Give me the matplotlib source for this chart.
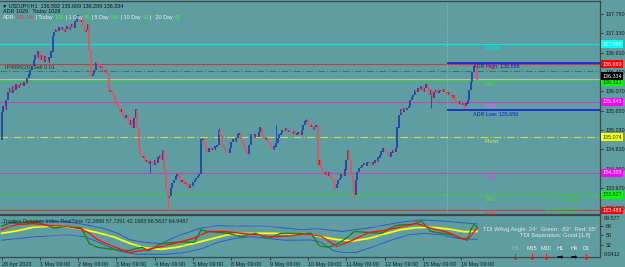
import numpy as np
import matplotlib.pyplot as plt
from matplotlib.transforms import blended_transform_factory

plt.rcParams['font.family'] = ['Liberation Sans', 'DejaVu Sans']

bg = '#5F9EA0'
bull = '#2340A8'
bear = '#E8505C'

# USDJPY H1 closes, bar 0 = 28 Apr 09:00
first_open = 135.02
closes = [
    135.62, 135.75, 135.67, 135.88, 136.06, 136.14, 136.04, 136.19, 136.10, 136.23,
    136.14, 136.21, 136.25, 136.19, 136.27, 136.23, 136.36, 136.43, 136.53, 136.62,
    136.75, 136.86, 136.80, 136.93, 136.75, 136.86, 136.71, 136.82, 136.75, 136.69,
    136.80, 136.93, 137.27, 137.36, 137.42, 137.38, 137.47, 137.40, 137.45, 137.36,
    137.42, 137.49, 137.40, 137.47, 137.53, 137.45, 137.58, 137.66, 137.71, 137.58,
    137.62, 137.49, 137.36, 137.40, 137.53, 136.97, 136.40, 136.45, 136.53, 136.71,
    136.67, 136.58, 136.62, 136.53, 136.49, 136.53, 136.45, 136.06, 136.10, 136.04,
    135.99, 135.88, 135.80, 135.71, 135.62, 135.67, 135.54, 135.49, 135.56, 135.41,
    135.34, 135.45, 135.28, 135.49, 135.67, 135.28, 134.84, 134.69, 134.63, 134.67,
    134.54, 134.58, 134.50, 134.56, 134.52, 134.47, 134.58, 134.52, 134.63, 134.69,
    134.58, 134.80, 134.37, 133.93, 133.76, 133.80, 133.97, 134.08, 134.15, 134.23,
    134.28, 134.23, 134.10, 134.15, 134.06, 134.10, 134.02, 133.97, 134.06, 134.02,
    134.10, 134.15, 134.19, 134.23, 134.28, 135.02, 135.06, 134.91, 134.80, 134.76,
    134.84, 134.80, 134.84, 134.80, 134.87, 134.91, 135.23, 135.13, 134.91, 134.87,
    134.80, 134.76, 134.74, 134.84, 134.97, 135.02, 134.97, 135.06, 135.13, 135.17,
    135.02, 134.95, 134.84, 134.76, 134.71, 134.91, 135.13, 135.10, 135.06, 135.13,
    135.08, 135.19, 135.28, 135.13, 135.08, 135.02, 135.06, 134.97, 134.91, 134.84,
    134.80, 134.87, 134.95, 135.06, 135.13, 135.17, 135.23, 135.21, 135.26, 135.19,
    135.23, 135.19, 135.15, 135.21, 135.13, 135.15, 135.19, 135.13, 135.23, 135.34,
    135.41, 135.45, 135.36, 135.30, 135.34, 135.23, 135.30, 135.34, 134.47, 134.58,
    134.41, 134.32, 134.26, 134.32, 134.23, 134.32, 134.21, 134.15, 134.04, 133.97,
    134.06, 134.15, 134.19, 134.26, 134.23, 134.37, 134.58, 134.80, 134.58, 134.26,
    134.10, 133.82, 134.15, 134.32, 134.41, 134.43, 134.47, 134.50, 134.45, 134.52,
    134.54, 134.50, 134.47, 134.52, 134.58, 134.54, 134.63, 134.69, 134.76, 134.84,
    134.80, 134.76, 134.69, 134.65, 134.74, 134.80, 134.76, 134.84, 135.28, 135.56,
    135.67, 135.62, 135.71, 135.67, 135.71, 135.75, 135.88, 135.95, 135.99, 136.10,
    136.06, 136.14, 136.10, 136.19, 136.06, 136.14, 136.23, 136.14, 135.99, 136.10,
    135.93, 136.06, 136.10, 136.04, 136.08, 136.10, 136.06, 136.12, 136.04, 135.99,
    136.06, 135.97, 135.93, 135.99, 135.88, 135.84, 135.80, 135.86, 135.78, 135.82,
    135.75, 135.80, 135.88, 136.10, 136.27, 136.49, 136.62, 136.58, 136.334,
]
spike_highs = {48: 137.73, 136: 135.28, 172: 135.34, 191: 135.47, 297: 136.64}
spike_lows = {93: 134.30, 104: 133.50, 221: 133.76, 269: 135.71, 290: 135.69}

# fibonacci pivot levels
level_names = ['R100', 'R78', 'R61', 'R38', 'Pivot', 'S38', 'S61', 'S78']
level_prices = [137.092, 136.660, 136.321, 135.845, 135.074, 134.303, 133.827, 133.488]
level_colors = ['#00E8E8', '#D03A3A', '#3CCB3C', '#C840C8', '#D0DC50', '#B848C0', '#3CCB3C', '#D03A3A']
text_colors = ['#00E8E8', '#E85A5A', '#40E040', '#F060F0', '#E8E840', '#D050D0', '#40E040', '#E04040']
box_colors = ['#00FFFF', '#FF0000', '#00FF00', '#FF00FF', '#FFFF00', '#FF00FF', '#00FF00', '#FF0000']

adr_high, adr_low, day_start = 136.686, 135.656, 279
order_price = 136.505
bid = 136.334

price_ticks = [137.750, 137.330, 136.910, 136.490, 136.070, 135.650, 135.230, 134.810, 134.390, 133.970, 133.550]
time_ticks = [0, 24, 48, 72, 96, 120, 144, 168, 192, 216, 240, 264, 288]
time_labels = ['28 Apr 2023', '1 May 09:00', '2 May 09:00', '3 May 09:00', '4 May 09:00',
               '5 May 09:00', '8 May 09:00', '9 May 09:00', '10 May 09:00', '11 May 09:00',
               '12 May 09:00', '15 May 09:00', '16 May 09:00']

# Traders Dynamic Index lines (bar, value)
yellow_bars = [0, 10, 20, 30, 40, 50, 60, 70, 80, 90, 100, 110, 120, 130, 140, 150, 160, 170,
               180, 190, 200, 210, 220, 230, 240, 250, 260, 270, 280, 290, 298]
yellow = [54, 59, 66, 67.7, 67, 62.4, 55.5, 47.4, 35, 25.7, 23, 27, 34, 42, 50, 53.5, 54, 54,
          53, 54, 47.4, 42, 39.2, 44, 52.8, 61, 65, 65.7, 62.4, 57, 57.73]
red_bars = [0, 5, 10, 20, 30, 40, 50, 55, 60, 70, 80, 90, 100, 110, 120, 125, 130, 140, 150, 160,
            170, 180, 190, 200, 210, 220, 230, 240, 250, 260, 270, 280, 290, 294, 298]
red = [61, 67, 71, 73, 69, 67.8, 62.4, 54, 42, 28.4, 16.8, 21.6, 28.4, 36, 44, 51, 57.6, 57.6, 54, 51,
       47.4, 48.8, 52.8, 48.8, 28.4, 40.6, 55.5, 59.6, 66.5, 73, 63, 55.5, 42, 48.8, 64.95]
green_bars = [0, 6, 15, 21, 27, 33, 42, 50, 55, 60, 67, 79, 88, 92, 100, 111, 121, 125, 129, 142,
              150, 159, 167, 175, 188, 194, 199, 205, 211, 217, 221, 230, 238, 246, 251, 257, 263,
              269, 276, 282, 288, 292, 294, 296, 298]
green = [67.8, 74.7, 76, 76, 71, 64.4, 67.8, 64.4, 34, 27, 23.7, 20.2, 27, 20.2, 34, 37, 37, 61, 57.6, 54,
         47.4, 54, 44, 54, 54, 54, 30, 27, 34, 47, 57.6, 55.5, 54, 67.8, 71, 71, 78,
         57.6, 54, 51, 44, 40.6, 61, 71, 66.56]
upper_bars = [0, 10, 20, 27, 42, 52, 63, 73, 80, 88, 100, 109, 125, 136, 146, 167, 177, 188, 198,
              213, 230, 242, 251, 263, 276, 288, 298]
upper = [74.7, 73, 76, 78, 76, 71, 64.4, 54, 42, 37, 34, 47.4, 64.4, 69, 67.8, 67.8, 64.4, 61, 63,
         57.6, 64.4, 71, 76, 80, 78, 74.7, 72.29]
lower_bars = [0, 21, 42, 52, 63, 73, 84, 104, 115, 125, 136, 146, 157, 167, 177, 194, 200, 208,
              214, 222, 232, 244, 255, 265, 276, 286, 298]
lower = [40.6, 47.4, 51, 47.4, 34, 20.2, 13.5, 13.5, 16.8, 23.7, 37, 44, 47.4, 44, 40.6, 41, 37, 20.2,
         16.8, 16.8, 27, 40.6, 51, 54, 51, 44, 42.2]

fs = 3.9  # MT4 uses a tiny font


def px(x, y):
    return x / 625, 1 - y / 267


fig = plt.figure(figsize=(6.25, 2.67), dpi=100, facecolor=bg)
ax = fig.add_axes([0, 53 / 267, 600 / 625, 213 / 267], facecolor=bg)
ax2 = fig.add_axes([0, 10 / 267, 600 / 625, 42 / 267], facecolor=bg)

## main price window
c = np.array(closes)
o = np.array([first_open] + closes[:-1])
x = np.arange(len(c))
up = c >= o
ax.vlines(x[up], o[up], c[up] + 0.008, color=bull, lw=1.25)
ax.vlines(x[~up], c[~up] - 0.008, o[~up], color=bear, lw=1.25)
for b, h in spike_highs.items():
    ax.vlines(b, max(o[b], c[b]), h, color=bull if up[b] else bear, lw=0.6)
for b, l in spike_lows.items():
    ax.vlines(b, l, min(o[b], c[b]), color=bull if up[b] else bear, lw=0.6)

for name, p, lc, tc in zip(level_names, level_prices, level_colors, text_colors):
    ls = (0, (7, 2, 1, 2)) if name == 'Pivot' else '-'
    ax.axhline(p, color=lc, lw=0.8, ls=ls, zorder=1)
    ax.text(302.5, p - 0.04, name, color=tc, fontsize=4.6, va='top', ha='left')

ax.axhline(order_price, color='#2E8060', lw=0.8, ls=(0, (6, 2, 1, 2)), zorder=1)
ax.text(2, order_price + 0.02, 'IP4998(20) Sell 0.01', color='#303030', fontsize=fs, va='bottom')
ax.axhline(bid, color='#C8C8C8', lw=0.6, zorder=1)

ax.axvline(day_start, color='#A8C4C4', lw=0.6, ls=(0, (1, 2)))
ax.hlines([adr_high, adr_low], day_start, 400, color='#1010E0', lw=1.1)
ax.text(295.5, adr_high - 0.03, f'ADR High: {adr_high:.3f}', color='#1818C8', fontsize=fs, va='top')
ax.text(295.5, adr_low - 0.03, f'ADR Low: {adr_low:.3f}', color='#1818C8', fontsize=fs, va='top')

ax.set_xlim(-1, 375)
ax.set_ylim(133.41, 138.032)
ax.yaxis.tick_right()
ax.set_yticks(price_ticks)
ax.set_yticklabels([f'{t:.3f}' for t in price_ticks])
ax.tick_params(axis='y', labelsize=fs, colors='#1a1a1a', length=2, width=0.5, pad=2)
ax.set_xticks([])
ax.spines['left'].set_visible(False)
for s in ['top', 'right', 'bottom']:
    ax.spines[s].set_color('#3a4a4a')
    ax.spines[s].set_linewidth(0.9)

tr = blended_transform_factory(ax.transAxes, ax.transData)
for p, bc in zip(level_prices, box_colors):
    dark = bc in ('#00FF00', '#FFFF00')
    va = 'top' if p == 136.321 else 'center'
    ax.text(1.004, p, f'{p:.3f}', transform=tr, fontsize=fs, va=va, ha='left',
            color='#203020' if dark else 'white', clip_on=False,
            bbox=dict(boxstyle='square,pad=0.25', fc=bc, ec='none'))
ax.text(1.004, bid + 0.01, f'{bid:.3f}', transform=tr, fontsize=fs, va='bottom', ha='left',
        color='white', clip_on=False, bbox=dict(boxstyle='square,pad=0.25', fc='black', ec='none'))

# header texts
fig.text(*px(2, 6), '▼ USDJPY,H1  136.592 136.609 136.209 136.334', fontsize=fs, color='#101010', va='center')
fig.text(*px(3, 12), 'ADR 1029   Today 1028', fontsize=fs, color='#101010', va='center')
hdr = [('ADR:', '#f0f0f0'), ('105.1%', '#FF3030'), (' | Today ', '#f0f0f0'), ('108', '#30FF30'),
       (' | 1 Day ', '#f0f0f0'), ('76', '#30FF30'), (' | 5 Day ', '#f0f0f0'), ('100', '#30FF30'),
       (' | 10 Day ', '#f0f0f0'), ('99', '#30FF30'), (' |   20 Day ', '#f0f0f0'), ('81', '#30FF30')]
renderer = fig.canvas.get_renderer()
xpos = 3
for s, col in hdr:
    tt = fig.text(*px(xpos, 18), s, fontsize=fs, color=col, va='center')
    xpos += tt.get_window_extent(renderer).width

fig.text(*px(557, 200), '+16.9', fontsize=6.5, color='#32CD32', va='center')
fig.text(*px(545, 210), 'Hrs 0:26:21 ?', fontsize=4.3, color='#32CD32', va='center')

## TDI window
ax2.plot(upper_bars, upper, color='#3355CC', lw=0.7)
ax2.plot(lower_bars, lower, color='#3355CC', lw=0.7)
ax2.plot(yellow_bars, yellow, color='#FFFF00', lw=1.3)
ax2.plot(green_bars, green, color='#118811', lw=1.0)
ax2.plot(red_bars, red, color='#FF1010', lw=1.0)
for lv in [68, 50, 32]:
    ax2.axhline(lv, color='#7A9898', lw=0.6, ls=(0, (1, 2)))
ax2.set_xlim(-1, 375)
ax2.set_ylim(8.0412, 89.577)
ax2.yaxis.tick_right()
ax2.set_yticks([68, 50, 32])
ax2.set_yticklabels(['68', '50', '32'])
ax2.tick_params(axis='y', labelsize=fs, colors='#1a1a1a', length=2, width=0.5, pad=2)
ax2.set_xticks(time_ticks)
ax2.set_xticklabels(time_labels)
ax2.tick_params(axis='x', labelsize=fs, colors='#1a1a1a', length=2, width=0.5, pad=1.5)
for lab in ax2.get_xticklabels():
    lab.set_ha('left')
ax2.spines['left'].set_visible(False)
for s in ['top', 'right', 'bottom']:
    ax2.spines[s].set_color('#3a4a4a')
    ax2.spines[s].set_linewidth(0.9)
fig.text(*px(604, 219), '89.577', fontsize=fs, color='#1a1a1a', va='center')
fig.text(*px(604, 254), '8.0412', fontsize=fs, color='#1a1a1a', va='center')

fig.text(*px(3, 221), 'Traders Dynamic Index RealTime 72.2886 57.7291 42.1983 66.5637 64.9487',
         fontsize=fs, color='#202020', va='center')
fig.text(*px(597, 229), 'TDI WAvg Angle: 24°  Green: -83°  Red: 65°', fontsize=fs + 0.3, color='#E8E8E8',
         va='center', ha='right')
fig.text(*px(591, 235), 'TDI Seperation: Good [1.8]', fontsize=fs + 0.3, color='#E8E8E8', va='center', ha='right')

tf_names = ['M5', 'M15', 'M30', 'H1', 'H4', 'D1']
tf_x = [515, 532, 546, 560, 574, 586]
tf_dirs = ['down', 'down', 'down', 'right', 'right', 'down']
for nm, xx, d in zip(tf_names, tf_x, tf_dirs):
    fig.text(*px(xx, 248), nm, fontsize=fs, color='#9AB4B4' if nm == 'M5' else '#F0F0F0',
             va='center', ha='center')
    if d == 'down':
        fig.text(*px(xx, 257), '↓', fontsize=6, color='#FF1010', fontweight='bold', va='center', ha='center',
                 family='DejaVu Sans')
    else:
        fig.text(*px(xx, 257), '➡', fontsize=5.5, color='#000000', va='center', ha='center',
                 family='DejaVu Sans')

fig.savefig('out.png', dpi=100, facecolor=bg)
